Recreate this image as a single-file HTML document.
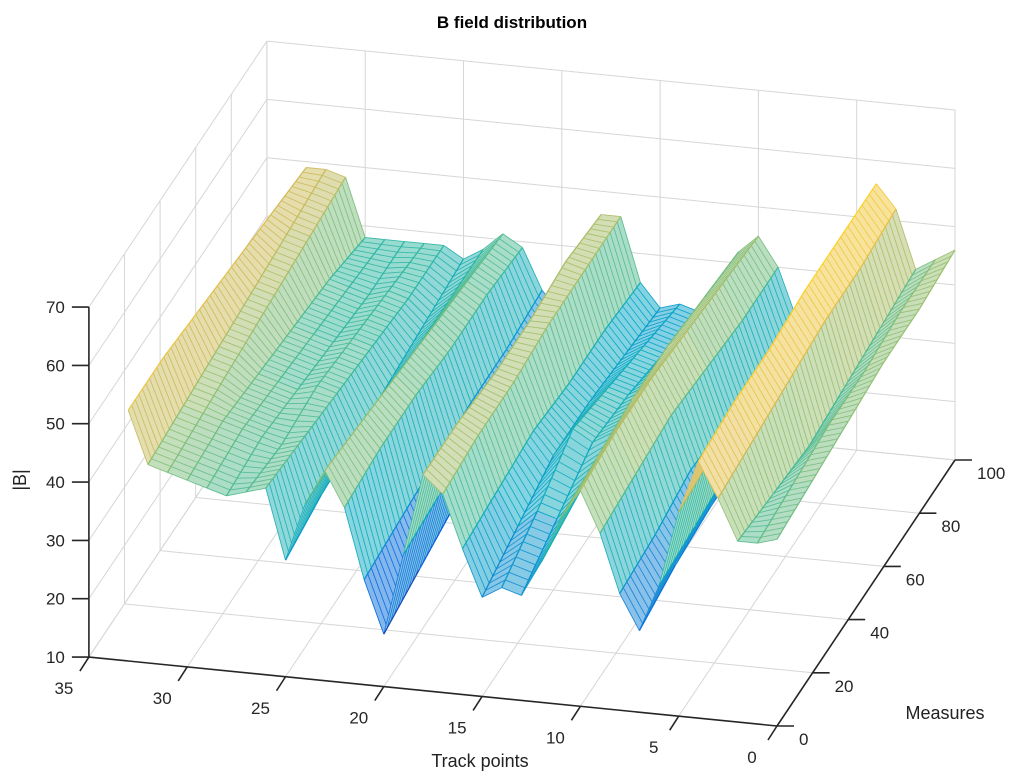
<!DOCTYPE html>
<html><head><meta charset="utf-8"><style>
html,body{margin:0;padding:0;background:#fff;}
svg{display:block;font-family:"Liberation Sans",Arial,sans-serif;}
</style></head><body>
<svg id="chart" width="1024" height="781" viewBox="0 0 1024 781" xmlns="http://www.w3.org/2000/svg">
<text x="512" y="28" text-anchor="middle" font-size="17" font-weight="bold" fill="#000">B field distribution</text>
<g id="grid"></g>
<g id="surface"></g>
<g id="axes"></g>
<text x="480" y="767" text-anchor="middle" font-size="18" fill="#222">Track points</text>
<text x="945" y="719" text-anchor="middle" font-size="18" fill="#222">Measures</text>
<text x="0" y="0" transform="translate(26,480) rotate(-90)" text-anchor="middle" font-size="18" fill="#222">|B|</text>
</svg>
<script>
const trackPoints = [0,1,2,3,4,5,6,7,8,9,10,11,12,13,14,15,16,17,18,19,20,21,22,23,24,25,26,27,28,29,30,31,32,33];
const measureRows = [0,20,40,60,80,100];
const bRow0   = [42,41,41,48,54,45,32,24,30,40,47,42,34,28,29,27,35,44,47,33,19,28,40,46,40,30,42,41,40,41,42,43,44,53];
const bRow20  = [43,42,40,49,55,46,33,26,31,41,48,43,36,32,33,30,36,45,47,34,21,29,41,45,40,32,41,40,41,42,43,44,45,53];
const bRow40  = [44,43,39,50,55,46,34,27,33,42,48,44,38,36,38,33,37,45,46,35,23,30,41,44,39,33,40,41,40,41,42,45,46,52];
const bRow60  = [45,43,40,51,56,47,35,27,32,41,47,44,37,35,36,33,36,46,46,35,25,31,40,43,38,34,39,40,39,40,41,46,47,51];
const bRow80  = [45,44,41,51,56,47,34,27,31,40,46,43,36,33,34,32,36,46,47,35,27,31,40,42,38,35,38,39,38,39,40,47,48,50];
const bRow100 = [46,44,42,52,56,46,33,27,31,40,45,42,35,31,32,31,35,46,46,34,28,32,39,41,38,36,38,38,38,38,38,48,49,49];
const xTicks = [0,5,10,15,20,25,30,35];
const yTicks = [0,20,40,60,80,100];
const zTicks = [10,20,30,40,50,60,70];

const rows = [bRow0,bRow20,bRow40,bRow60,bRow80,bRow100];
const NS = "http://www.w3.org/2000/svg";
function P(x,y,z){ return [777 - 19.66*x + 1.78*y, 726 - 1.97*x - 2.66*y - 5.833*(z-10)]; }
const parula = [[53,42,135],[3,99,225],[20,133,212],[6,167,198],[56,185,158],[146,191,115],[217,186,86],[252,206,46],[249,251,14]];
let zmin = Infinity, zmax = -Infinity;
rows.forEach(r=>r.forEach(v=>{zmin=Math.min(zmin,v);zmax=Math.max(zmax,v);}));
zmin -= 2; zmax += 5;
function col(z, w){
  let t = Math.max(0,Math.min(1,(z-zmin)/(zmax-zmin)))*(parula.length-1);
  let i = Math.min(parula.length-2, Math.floor(t)), f = t-i;
  let c = [0,1,2].map(k=>parula[i][k]*(1-f)+parula[i+1][k]*f);
  c = c.map(v=>Math.round(v*(1-w)+255*w));
  return `rgb(${c[0]},${c[1]},${c[2]})`;
}
function mk(tag, attrs, parent){
  const e = document.createElementNS(NS, tag);
  for (const k in attrs) e.setAttribute(k, attrs[k]);
  parent.appendChild(e); return e;
}
const grid = document.getElementById('grid');
const gs = {stroke:'#d6d6d6','stroke-width':1,fill:'none'};
function gline(a,b,name){
  const l = mk('line', Object.assign({x1:a[0],y1:a[1],x2:b[0],y2:b[1]}, gs), grid);
  
  
}
xTicks.forEach(x=>{ gline(P(x,100,10),P(x,100,70),'back-wall-gridline'); gline(P(x,0,10),P(x,100,10),'floor-gridline'); });
yTicks.forEach(y=>{ gline(P(35,y,10),P(35,y,70),'side-wall-gridline'); gline(P(0,y,10),P(35,y,10),'floor-gridline'); });
zTicks.forEach(z=>{ gline(P(0,100,z),P(35,100,z),'back-wall-gridline'); gline(P(35,0,z),P(35,100,z),'side-wall-gridline'); });
const surf = document.getElementById('surface');
const quads = [];
for (let j=0;j<measureRows.length-1;j++) for (let i=0;i<trackPoints.length-1;i++){
  const cy = (measureRows[j]+measureRows[j+1])/2, cx=(trackPoints[i]+trackPoints[i+1])/2;
  quads.push({i,j,d: 726 - 1.97*cx - 2.66*cy});
}
quads.sort((a,b)=>a.d-b.d);
quads.forEach(q=>{
  const {i,j} = q;
  const x0=trackPoints[i], x1=trackPoints[i+1], y0=measureRows[j], y1=measureRows[j+1];
  const z00=rows[j][i], z10=rows[j][i+1], z01=rows[j+1][i], z11=rows[j+1][i+1];
  const g = mk('g', {}, surf);
  
  
  const pts = [P(x0,y0,z00),P(x1,y0,z10),P(x1,y1,z11),P(x0,y1,z01)];
  const za = (z00+z10+z01+z11)/4;
  mk('polygon',{points:pts.map(p=>p.join(',')).join(' '), fill:col(za,0.5), stroke:'none'}, g);
  const n = 10;
  for (let k=0;k<=n;k++){
    const t=k/n, y=y0+(y1-y0)*t;
    const za2=z00+(z01-z00)*t, zb2=z10+(z11-z10)*t;
    const a=P(x0,y,za2), b=P(x1,y,zb2);
    mk('line',{x1:a[0],y1:a[1],x2:b[0],y2:b[1],stroke:col((za2+zb2)/2,0.05),'stroke-width':0.9}, g);
  }
  [[x0,z00,z01],[x1,z10,z11]].forEach(([x,za3,zb3])=>{
    const a=P(x,y0,za3), b=P(x,y1,zb3);
    mk('line',{x1:a[0],y1:a[1],x2:b[0],y2:b[1],stroke:col((za3+zb3)/2,0),'stroke-width':1.2}, g);
  });
});
const ax = document.getElementById('axes');
const as = {stroke:'#262626','stroke-width':1.6};
function aline(a,b,name){
  const l = mk('line', Object.assign({x1:a[0],y1:a[1],x2:b[0],y2:b[1]}, as), ax);
  
  
}
function atext(x,y,s,anchor,name){
  const t = mk('text',{x,y,'text-anchor':anchor,'font-size':17,fill:'#262626'},ax);
  t.textContent = s;
  
  
}
aline(P(35,0,10),P(0,0,10),'x-axis-line');
aline(P(0,0,10),P(0,100,10),'y-axis-line');
aline(P(35,0,10),P(35,0,70),'z-axis-line');
xTicks.forEach(x=>{ const p=P(x,0,10); aline(p,[p[0]-9,p[1]+14],'x-tick'); atext(p[0]-25,p[1]+37,String(x),'middle','x-tick-label'); });
yTicks.forEach(y=>{ const p=P(0,y,10); aline(p,[p[0]+17,p[1]],'y-tick'); atext(p[0]+22,p[1]+19,String(y),'start','y-tick-label'); });
zTicks.forEach(z=>{ const p=P(35,0,z); aline(p,[p[0]-17,p[1]],'z-tick'); atext(p[0]-24,p[1]+6,String(z),'end','z-tick-label'); });
</script>
</body></html>
